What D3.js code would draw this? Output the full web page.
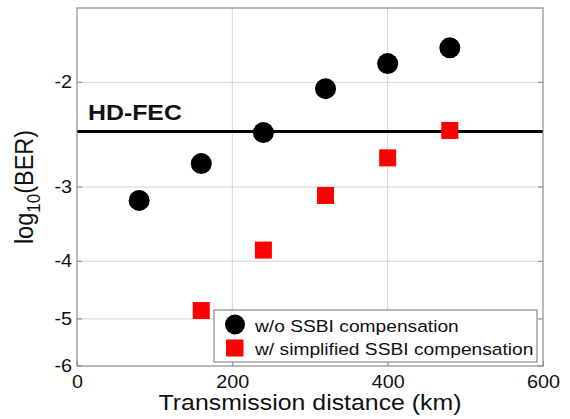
<!DOCTYPE html>
<html>
<head>
<meta charset="utf-8">
<script src="https://cdn.jsdelivr.net/npm/d3@7"></script>
<style>
  body { margin: 0; background: #fff; }
  svg { display: block; font-family: "Liberation Sans", Arial, sans-serif; }
</style>
</head>
<body>
<svg id="chart" width="570" height="419"></svg>
<script>
// data
var distances = [80, 160, 240, 320, 400, 480]
var berNoComp = [-3.16, -2.74, -2.43, -2.05, -1.86, -1.75]
var simpDistances = [160, 240, 320, 400, 480]
var berSimplified = [-4.84, -3.83, -3.10, -2.68, -2.41]
var hdFec = -2.42
var xTicks = [0, 200, 400, 600]
var yTicks = [-2, -3, -4, -5, -6]
var seriesNames = ["w/o SSBI compensation", "w/ simplified SSBI compensation"]

var svg = d3.select("#chart")
var stretch = 1.13   // the reference glyphs are a bit wide

var dims = {
    width: 570,
    height: 419,
    margin: { top: 8, bottom: 53, left: 77, right: 27 }
}

var xScale = d3.scaleLinear()
               .domain([0, 600])
               .range([dims.margin.left, dims.width - dims.margin.right])
// y axis is log spaced on -log10(BER)
var yLog = d3.scaleLog()
             .domain([1.5, 6])
             .range([dims.margin.top, dims.height - dims.margin.bottom])
var yScale = v => yLog(-v)

var plotW = dims.width - dims.margin.left - dims.margin.right
var plotH = dims.height - dims.margin.top - dims.margin.bottom

// grid
var grid = svg.append("g")
grid.selectAll(".gx")
    .data(xTicks.slice(1, -1))
    .enter().append("line")
    .attr("x1", d => xScale(d)).attr("x2", d => xScale(d))
    .attr("y1", dims.margin.top).attr("y2", dims.height - dims.margin.bottom)
    .attr("stroke", "#d4d4d4").attr("stroke-width", 1)
grid.selectAll(".gy")
    .data(yTicks.slice(0, -1))
    .enter().append("line")
    .attr("x1", dims.margin.left).attr("x2", dims.width - dims.margin.right)
    .attr("y1", d => yScale(d)).attr("y2", d => yScale(d))
    .attr("stroke", "#d4d4d4").attr("stroke-width", 1)

// HD-FEC threshold
svg.append("line")
   .attr("x1", dims.margin.left).attr("x2", dims.width - dims.margin.right)
   .attr("y1", yScale(hdFec)).attr("y2", yScale(hdFec))
   .attr("stroke", "black").attr("stroke-width", 3)
svg.append("text")
   .attr("transform", `translate(${dims.margin.left + 11},${yScale(hdFec) - 12}) scale(${stretch},1)`)
   .attr("font-size", 22)
   .attr("font-weight", "bold")
   .attr("fill", "#111")
   .text("HD-FEC")

// axes box
svg.append("rect")
   .attr("x", dims.margin.left).attr("y", dims.margin.top)
   .attr("width", plotW).attr("height", plotH)
   .attr("fill", "none").attr("stroke", "#8a8a8a").attr("stroke-width", 1.2)

var xAxis = svg.append("g")
   .attr("transform", `translate(0,${dims.height - dims.margin.bottom})`)
   .call(d3.axisBottom(xScale).tickValues(xTicks).tickSize(-5).tickPadding(0).tickFormat(d3.format("d")))
xAxis.select(".domain").remove()
xAxis.selectAll("line").attr("stroke", "#8a8a8a")
xAxis.selectAll("text")
     .attr("y", null).attr("dy", null)
     .attr("transform", `translate(0,22) scale(${stretch},1)`)
     .attr("font-size", 17.5).attr("fill", "#111")

var yAxis = svg.append("g")
   .attr("transform", `translate(${dims.margin.left},0)`)
var yTick = yAxis.selectAll(".ytick")
   .data(yTicks)
   .enter().append("g")
   .attr("transform", d => `translate(0,${yScale(d)})`)
yTick.append("line").attr("x2", 5).attr("stroke", "#8a8a8a")
yTick.append("line").attr("x1", plotW - 5).attr("x2", plotW).attr("stroke", "#8a8a8a")
yTick.append("text")
     .attr("transform", `translate(-5,6) scale(${stretch},1)`)
     .attr("text-anchor", "end")
     .attr("font-size", 17.5).attr("fill", "#111")
     .text(d => d)

// markers
svg.append("g").selectAll("circle")
   .data(distances.map((d, i) => ({ x: d, y: berNoComp[i] })))
   .enter().append("circle")
   .attr("cx", d => xScale(d.x)).attr("cy", d => yScale(d.y))
   .attr("r", 10.5).attr("fill", "black")

var sq = 17
svg.append("g").selectAll("rect")
   .data(simpDistances.map((d, i) => ({ x: d, y: berSimplified[i] })))
   .enter().append("rect")
   .attr("x", d => xScale(d.x) - sq / 2).attr("y", d => yScale(d.y) - sq / 2)
   .attr("width", sq).attr("height", sq).attr("fill", "red")

// axis titles
svg.append("text")
   .attr("transform", `translate(${(dims.margin.left + dims.width - dims.margin.right) / 2},${dims.height - 9}) scale(${stretch},1)`)
   .attr("text-anchor", "middle")
   .attr("font-size", 22).attr("fill", "#111")
   .text("Transmission distance (km)")

var yLabel = svg.append("text")
   .attr("transform", `translate(33,${dims.margin.top + plotH / 2}) rotate(-90) scale(1,${stretch})`)
   .attr("text-anchor", "middle")
   .attr("font-size", 23.5).attr("fill", "#111")
yLabel.append("tspan").text("log")
yLabel.append("tspan").attr("font-size", 17).attr("dy", 6).text("10")
yLabel.append("tspan").attr("dy", -6).text("(BER)")

// legend
var legend = svg.append("g").attr("transform", "translate(214,310)")
legend.append("rect")
      .attr("width", 323).attr("height", 52)
      .attr("fill", "white").attr("stroke", "#8a8a8a").attr("stroke-width", 1.2)
legend.append("circle").attr("cx", 21).attr("cy", 14.5).attr("r", 10).attr("fill", "black")
legend.append("rect").attr("x", 12).attr("y", 29.5).attr("width", 17.5).attr("height", 17).attr("fill", "red")
legend.selectAll(".ltext")
      .data(seriesNames)
      .enter().append("text")
      .attr("transform", (d, i) => `translate(41,${22 + i * 23}) scale(${stretch},1)`)
      .attr("font-size", 17).attr("fill", "#111")
      .text(d => d)
</script>
</body>
</html>
